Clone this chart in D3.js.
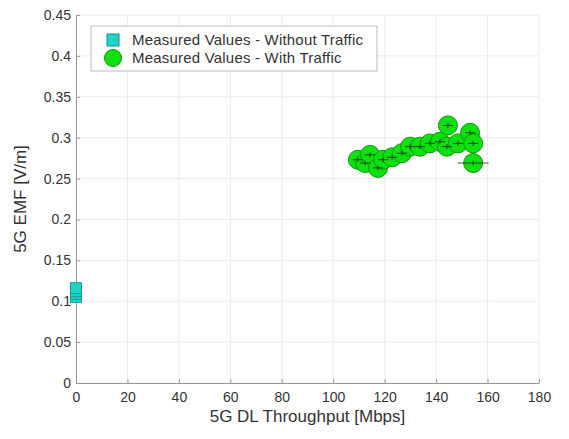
<!DOCTYPE html>
<html>
<head>
<meta charset="utf-8">
<script src="https://cdn.jsdelivr.net/npm/d3@7"></script>
<style>
body { margin: 0; background: #fff; }
text { font-family: "Liberation Sans", Arial, sans-serif; fill: #333; }
</style>
</head>
<body>
<script>
//values
var xTicks = [0, 20, 40, 60, 80, 100, 120, 140, 160, 180];
var yTicks = [0, 0.05, 0.1, 0.15, 0.2, 0.25, 0.3, 0.35, 0.4, 0.45];

var noTrafficX = [0, 0, 0, 0];
var noTrafficY = [0.105, 0.109, 0.112, 0.116];
var noTrafficErr = [0.003, 0.003, 0.003, 0.003];

var trafficX = [109.6, 112.4, 114.3, 117.4, 119.4, 122.9, 126.7, 129.9, 133.7, 137.6, 141.5, 144.6, 144.2, 148.5, 153.2, 154.4, 154.4];
var trafficY = [0.273, 0.269, 0.279, 0.263, 0.273, 0.276, 0.281, 0.289, 0.289, 0.293, 0.295, 0.315, 0.289, 0.293, 0.306, 0.293, 0.269];
var trafficXErr = [2, 2, 2, 2, 2, 2, 2, 2, 2, 2, 2, 2, 2, 2, 2, 2, 6];
var trafficYErr = [0.003, 0.003, 0.003, 0.003, 0.003, 0.003, 0.003, 0.003, 0.003, 0.003, 0.003, 0.003, 0.003, 0.003, 0.003, 0.003, 0.003];

var legendLabels = ["Measured Values - Without Traffic", "Measured Values - With Traffic"];

setChart();

function setChart(){
    var width = 569, height = 439;
    var left = 76, right = 539, top = 15, bottom = 383;

    var svg = d3.select("body").append("svg")
        .attr("width", width)
        .attr("height", height);

    var x = d3.scaleLinear().domain([0, 180]).range([left, right]);
    var y = d3.scaleLinear().domain([0, 0.45]).range([bottom, top]);

    //grid
    svg.append("g").selectAll("line")
        .data(xTicks).enter().append("line")
        .attr("x1", d => x(d)).attr("x2", d => x(d))
        .attr("y1", top).attr("y2", bottom)
        .attr("stroke", "#ececec");
    svg.append("g").selectAll("line")
        .data(yTicks).enter().append("line")
        .attr("x1", left).attr("x2", right)
        .attr("y1", d => y(d)).attr("y2", d => y(d))
        .attr("stroke", "#ececec");

    //axes
    var xAxis = d3.axisBottom(x).tickValues(xTicks).tickSizeInner(-4).tickSizeOuter(0).tickPadding(9);
    var yAxis = d3.axisLeft(y).tickValues(yTicks).tickSizeInner(-4).tickSizeOuter(0).tickPadding(5)
        .tickFormat(d => d3.format("")(+d.toFixed(2)));

    var gx = svg.append("g").attr("transform", "translate(0," + bottom + ")").call(xAxis);
    var gy = svg.append("g").attr("transform", "translate(" + left + ",0)").call(yAxis);
    [gx, gy].forEach(function(g){
        g.select(".domain").attr("stroke", "#999");
        g.selectAll(".tick line").attr("stroke", "#999");
        g.selectAll("text").attr("font-size", 14).attr("fill", "#555")
            .style("font-family", "Liberation Sans, Arial, sans-serif");
    });

    svg.append("text")
        .attr("x", (left + right) / 2).attr("y", 422)
        .attr("text-anchor", "middle").attr("font-size", 17).attr("fill", "#555")
        .text("5G DL Throughput [Mbps]");
    svg.append("text")
        .attr("transform", "translate(26," + ((top + bottom) / 2) + ") rotate(-90)")
        .attr("text-anchor", "middle").attr("font-size", 17).attr("fill", "#555")
        .text("5G EMF [V/m]");

    //without traffic
    var nt = svg.append("g");
    noTrafficX.forEach(function(d, i){
        nt.append("line")
            .attr("x1", x(d)).attr("x2", x(d))
            .attr("y1", y(noTrafficY[i] - noTrafficErr[i])).attr("y2", y(noTrafficY[i] + noTrafficErr[i]))
            .attr("stroke", "#222").attr("stroke-width", 0.8);
        nt.append("rect")
            .attr("x", x(d) - 5.5).attr("y", y(noTrafficY[i]) - 5.5)
            .attr("width", 11).attr("height", 11)
            .attr("fill", "#1fd3c6").attr("stroke", "#148f88").attr("stroke-width", 0.8);
    });

    //with traffic
    var wt = svg.append("g");
    trafficX.forEach(function(d, i){
        wt.append("circle")
            .attr("cx", x(d)).attr("cy", y(trafficY[i])).attr("r", 9.5)
            .attr("fill", "#0fe00f").attr("stroke", "#0a9a0a").attr("stroke-width", 1);
    });
    trafficX.forEach(function(d, i){
        var cx = x(d), cy = y(trafficY[i]);
        wt.append("line")
            .attr("x1", x(d - trafficXErr[i])).attr("x2", x(d + trafficXErr[i]))
            .attr("y1", cy).attr("y2", cy)
            .attr("stroke", "#222").attr("stroke-width", 0.8);
        wt.append("line")
            .attr("x1", cx).attr("x2", cx)
            .attr("y1", y(trafficY[i] - trafficYErr[i])).attr("y2", y(trafficY[i] + trafficYErr[i]))
            .attr("stroke", "#222").attr("stroke-width", 0.8);
    });

    //legend
    var lg = svg.append("g");
    lg.append("rect")
        .attr("x", 91).attr("y", 26).attr("width", 286).attr("height", 45)
        .attr("fill", "#fff").attr("stroke", "#aaa").attr("stroke-width", 0.8);
    lg.append("rect")
        .attr("x", 107).attr("y", 34).attr("width", 12).attr("height", 12)
        .attr("fill", "#1fd3c6").attr("stroke", "#148f88");
    lg.append("circle")
        .attr("cx", 113).attr("cy", 58).attr("r", 8.5)
        .attr("fill", "#0fe00f").attr("stroke", "#0a9a0a");
    lg.selectAll(".lab").data(legendLabels).enter().append("text")
        .attr("x", 132).attr("y", (d, i) => 45 + i * 18)
        .attr("font-size", 15).attr("fill", "#444")
        .style("letter-spacing", "0.2px")
        .text(d => d);
}
</script>
</body>
</html>
